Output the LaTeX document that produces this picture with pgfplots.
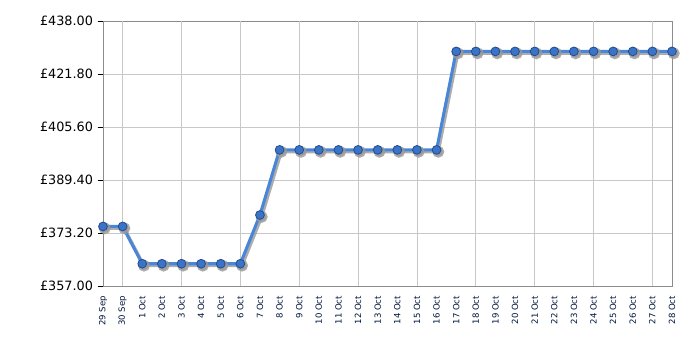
\documentclass[border=0pt]{standalone}
\usepackage{fontspec}
\setmainfont{DejaVu Sans}
\usepackage{pgfplots}
\pgfplotsset{compat=1.18}
\definecolor{linec}{RGB}{74,134,216}
\definecolor{markf}{RGB}{58,116,200}
\definecolor{markd}{RGB}{35,75,140}
\definecolor{gridc}{RGB}{200,200,200}
\definecolor{axc}{RGB}{140,140,140}
\definecolor{xlab}{RGB}{0,20,60}
\begin{document}
\begin{tikzpicture}
\begin{axis}[
  name=ax,
  scale only axis,
  width=426.75pt, height=198.75pt,
  xmin=0, xmax=29, ymin=357, ymax=438,
  axis line style={axc, line width=0.6pt},
  ytick={357,373.2,389.4,405.6,421.8,438},
  yticklabels={£357.00,£373.20,£389.40,£405.60,£421.80,£438.00},
  yticklabel style={font=\fontsize{9.6}{10}\selectfont, black},
  ymajorgrids, grid style={gridc, line width=0.5pt},
  y tick style={black, line width=0.6pt},
  major tick length=4pt,
  tick align=outside,
  xtick={0,...,29},
  xticklabels={29 Sep,30 Sep,1 Oct,2 Oct,3 Oct,4 Oct,5 Oct,6 Oct,7 Oct,8 Oct,9 Oct,10 Oct,11 Oct,12 Oct,13 Oct,14 Oct,15 Oct,16 Oct,17 Oct,18 Oct,19 Oct,20 Oct,21 Oct,22 Oct,23 Oct,24 Oct,25 Oct,26 Oct,27 Oct,28 Oct},
  xticklabel style={rotate=90, anchor=east, font=\fontsize{6.4}{7}\selectfont, text=xlab},
  x tick style={draw=none},
  extra x ticks={1,4,7,10,13,16,19,22,25,28},
  extra x tick labels={},
  extra x tick style={grid=major, major tick length=4pt, tick style={black, line width=0.6pt}},
  xtick pos=bottom, ytick pos=left,
  clip=false,
]
\addplot[gray!80, opacity=0.8, line width=2.3pt, xshift=1.3pt, yshift=-1.4pt,
  mark=*, mark size=3.3pt, mark options={fill=gray!80, draw=gray!80}] coordinates {
(0,375.2)(1,375.2)(2,363.8)(3,363.8)(4,363.8)(5,363.8)(6,363.8)(7,363.8)(8,378.7)
(9,398.6)(10,398.6)(11,398.6)(12,398.6)(13,398.6)(14,398.6)(15,398.6)(16,398.6)(17,398.6)
(18,428.7)(19,428.7)(20,428.7)(21,428.7)(22,428.7)(23,428.7)(24,428.7)(25,428.7)(26,428.7)(27,428.7)(28,428.7)(29,428.7)};
\addplot[linec, line width=2.3pt, mark=*, mark size=3.3pt,
  mark options={fill=markf, draw=markd, line width=0.6pt}] coordinates {
(0,375.2)(1,375.2)(2,363.8)(3,363.8)(4,363.8)(5,363.8)(6,363.8)(7,363.8)(8,378.7)
(9,398.6)(10,398.6)(11,398.6)(12,398.6)(13,398.6)(14,398.6)(15,398.6)(16,398.6)(17,398.6)
(18,428.7)(19,428.7)(20,428.7)(21,428.7)(22,428.7)(23,428.7)(24,428.7)(25,428.7)(26,428.7)(27,428.7)(28,428.7)(29,428.7)};
\end{axis}
\path (ax.south west) ++(-77.25pt,-48pt) coordinate (bl);
\path (ax.north east) ++(21pt,15.75pt) coordinate (tr);
\path[use as bounding box] (bl) rectangle (tr);
\end{tikzpicture}
\end{document}
